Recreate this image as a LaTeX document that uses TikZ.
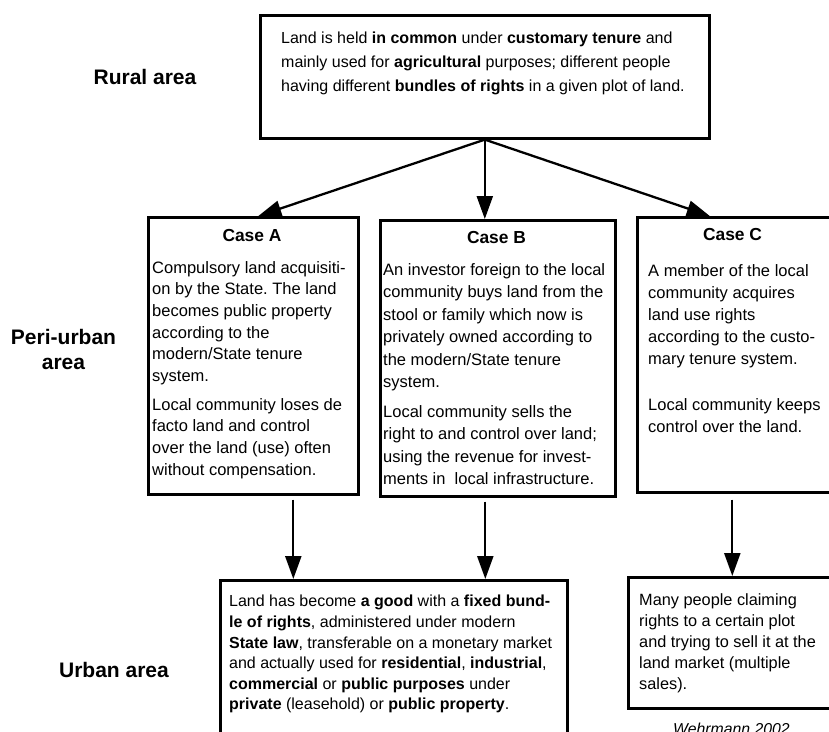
\documentclass[tikz,border=0pt]{standalone}
\usepackage{fontspec}
\setmainfont{Liberation Sans}
\usetikzlibrary{arrows.meta}
\frenchspacing

\begin{document}
\begin{tikzpicture}[x=1pt,y=-1pt,
  framebox/.style={draw, line width=2.6pt, inner sep=0pt, anchor=north west},
  txt/.style={anchor=north west, inner sep=0pt, align=left, font=\fontsize{16.5}{22}\selectfont},
  casetitle/.style={inner sep=0pt, font=\bfseries\fontsize{17.4}{20}\selectfont},
  arealabel/.style={inner sep=0pt, align=center, font=\bfseries\fontsize{21}{25}\selectfont},
  link/.style={-{Triangle[length=23pt,width=16pt]}, line width=2.3pt}]
\useasboundingbox (0,0) rectangle (829,731);

\node[framebox, minimum width=449pt, minimum height=123pt] (rural) at (259,14) {};
\node[framebox, minimum width=210pt, minimum height=277pt] (caseA) at (147,216) {};
\node[framebox, minimum width=235pt, minimum height=276pt] (caseB) at (379,219) {};
\node[framebox, minimum width=197pt, minimum height=275pt] (caseC) at (636,216) {};
\node[framebox, minimum width=347pt, minimum height=175pt] (good) at (219,579) {};
\node[framebox, minimum width=208pt, minimum height=131pt] (sales) at (627,576) {};

\node[arealabel] (ruralarea) at (145,77) {Rural area};
\node[arealabel] (periarea) at (63.5,349.5) {Peri-urban\\area};
\node[arealabel] (urbanarea) at (114,670) {Urban area};

\node[txt, font=\fontsize{16}{24}\selectfont] (ruraltext) at (281,32)
  {Land is held \textbf{in common} under \textbf{customary tenure} and\\
   mainly used for \textbf{agricultural} purposes; different people\\
   having different \textbf{bundles of rights} in a given plot of land.};

\node[casetitle] (titleA) at (252,236) {Case A};
\node[casetitle] (titleB) at (496.5,238) {Case B};
\node[casetitle] (titleC) at (732.5,235) {Case C};

\node[txt, font=\fontsize{16.5}{21.7}\selectfont] (textA) at (152,261)
  {Compulsory land acquisiti-\\
   on by the State. The land\\
   becomes public property\\
   according to the\\
   modern/State tenure\\
   system.\\[6.8pt]
   Local community loses de\\
   facto land and control\\
   over the land (use) often\\
   without compensation.};
\node[txt, font=\fontsize{16.5}{22.5}\selectfont] (textB) at (383,263)
  {An investor foreign to the local\\
   community buys land from the\\
   stool or family which now is\\
   privately owned according to\\
   the modern/State tenure\\
   system.\\[7pt]
   Local community sells the\\
   right to and control over land;\\
   using the revenue for invest-\\
   ments in \ local infrastructure.};
\node[txt] (textC) at (648,264)
  {A member of the local\\
   community acquires\\
   land use rights\\
   according to the custo-\\
   mary tenure system.\\[24pt]
   Local community keeps\\
   control over the land.};

\node[txt, font=\fontsize{16}{20.6}\selectfont] (goodtext) at (229,595)
  {Land has become \textbf{a good} with a \textbf{fixed bund-}\\
   \textbf{le of rights}, administered under modern\\
   \textbf{State law}, transferable on a monetary market\\
   and actually used for \textbf{residential}, \textbf{industrial},\\
   \textbf{commercial} or \textbf{public purposes} under\\
   \textbf{private} (leasehold) or \textbf{public property}.};
\node[txt, font=\fontsize{16.3}{21}\selectfont] (salestext) at (639,593)
  {Many people claiming\\
   rights to a certain plot\\
   and trying to sell it at the\\
   land market (multiple\\
   sales).};

\node[anchor=base, inner sep=0pt, font=\itshape\fontsize{15.8}{18}\selectfont] (source) at (731.5,734.5) {Wehrmann 2002};

\draw[link] (rural.south) -- ([xshift=5pt]caseA.north);
\draw[link] (rural.south) -- (rural.south |- caseB.north);
\draw[link] (rural.south) -- ([xshift=-26pt]caseC.north);
\draw[link, shorten <=4pt] ([xshift=40pt]caseA.south) -- ([xshift=40pt]caseA.south |- good.north);
\draw[link, shorten <=4pt] ([xshift=-12.5pt]caseB.south) -- ([xshift=-12.5pt]caseB.south |- good.north);
\draw[link, shorten <=6pt] (caseC.south -| sales.north) -- (sales.north);
\end{tikzpicture}
\end{document}
